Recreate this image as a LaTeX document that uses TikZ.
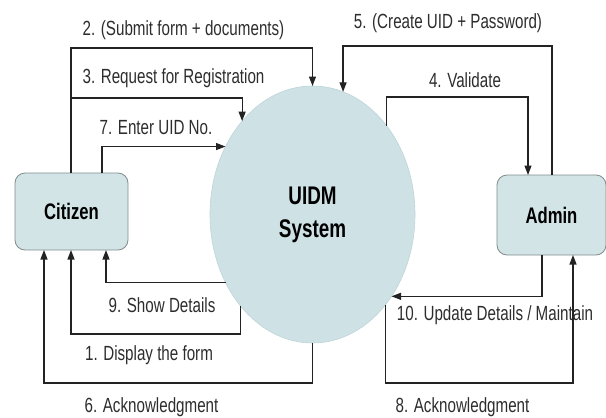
\documentclass[tikz,border=0pt]{standalone}
\usepackage{fontspec}
\setmainfont[FakeStretch=0.74]{Liberation Sans}
\usetikzlibrary{shapes.geometric,arrows.meta}

\definecolor{bubble}{RGB}{206,226,229}
\definecolor{bubbleline}{RGB}{190,212,216}
\definecolor{boxfill}{RGB}{210,228,230}
\definecolor{boxline}{RGB}{130,140,140}
\definecolor{flow}{RGB}{35,35,35}
\definecolor{txt}{RGB}{45,45,45}

\tikzset{
  entity/.style={draw=boxline, fill=boxfill, rounded corners=10pt, line width=0.8pt,
    font=\fontsize{22.5}{26}\selectfont\bfseries, text=black, inner sep=0pt, outer sep=0pt},
  process/.style={ellipse, draw=bubbleline, fill=bubble, line width=0.6pt,
    inner sep=0pt, outer sep=0pt, align=center,
    font=\fontsize{25.5}{33}\selectfont\bfseries, text=black},
  flowline/.style={draw=flow, line width=1.2pt, -{Triangle[length=9.5pt,width=7pt]}},
  lbl/.style={font=\fontsize{20.5}{24}\selectfont, text=txt, inner sep=0pt}
}

\begin{document}
\begin{tikzpicture}[x=1pt,y=-1pt]
  \useasboundingbox (0,0) rectangle (606,418);

  % external entities and the process bubble
  \node[entity, minimum width=113pt, minimum height=77pt] (cit) at (71.5,211.5) {Citizen};
  \node[entity, minimum width=109pt, minimum height=80pt] (adm) at (551.5,215) {Admin};
  \node[process, minimum width=205pt, minimum height=257pt] (sys) at (312.5,214.5) {UIDM\\System};

  % bend points of the flows
  \coordinate (c2) at (71,48);
  \coordinate (j3) at (71,98);
  \coordinate (c7) at (102,148);
  \coordinate (c5) at (552,46);
  \coordinate (c4) at (528,97);
  \coordinate (c9) at (106,283);
  \coordinate (c1) at (71,334);
  \coordinate (c6) at (44,383);
  \coordinate (c8) at (573,383);
  \coordinate (c10) at (542,295);

  % Citizen -> system
  \draw[flowline] (cit.north -| c2) -- (c2) -| (sys.north);
  \draw[flowline] (j3) -| (sys.127);
  \draw[flowline] (cit.north -| c7) |- (sys.142.8);

  % Admin <-> system (top)
  \draw[flowline] (adm.north -| c5) -- (c5) -| (sys.76);
  \draw[flowline] (sys.50.6) |- (c4) -- (c4 |- adm.north);

  % system -> Citizen
  \draw[flowline] (sys.218.3) -| (cit.south -| c9);
  \draw[flowline] (sys.232.1) |- (c1) -- (c1 |- cit.south);
  \draw[flowline] (sys.south) |- (c6) -- (c6 |- cit.south);

  % system <-> Admin (bottom)
  \draw[flowline] (sys.309.4) |- (c8) -- (c8 |- adm.south);
  \draw[flowline] (adm.south -| c10) |- (sys.314.8);

  % flow labels
  \node[lbl] (l2) at (183.5,30) {2. (Submit form + documents)};
  \node[lbl] (l3) at (173.5,78) {3. Request for Registration};
  \node[lbl] (l7) at (156,128) {7. Enter UID No.};
  \node[lbl] (l5) at (448,23) {5. (Create UID + Password)};
  \node[lbl] (l4) at (465,80) {4. Validate};
  \node[lbl] (l9) at (162,305) {9. Show Details};
  \node[lbl] (l1) at (149,355) {1. Display the form};
  \node[lbl] (l6) at (151.5,407) {6. Acknowledgment};
  \node[lbl] (l8) at (462.5,407) {8. Acknowledgment};
  \node[lbl] (l10) at (495,315) {10. Update Details / Maintain};
\end{tikzpicture}
\end{document}
